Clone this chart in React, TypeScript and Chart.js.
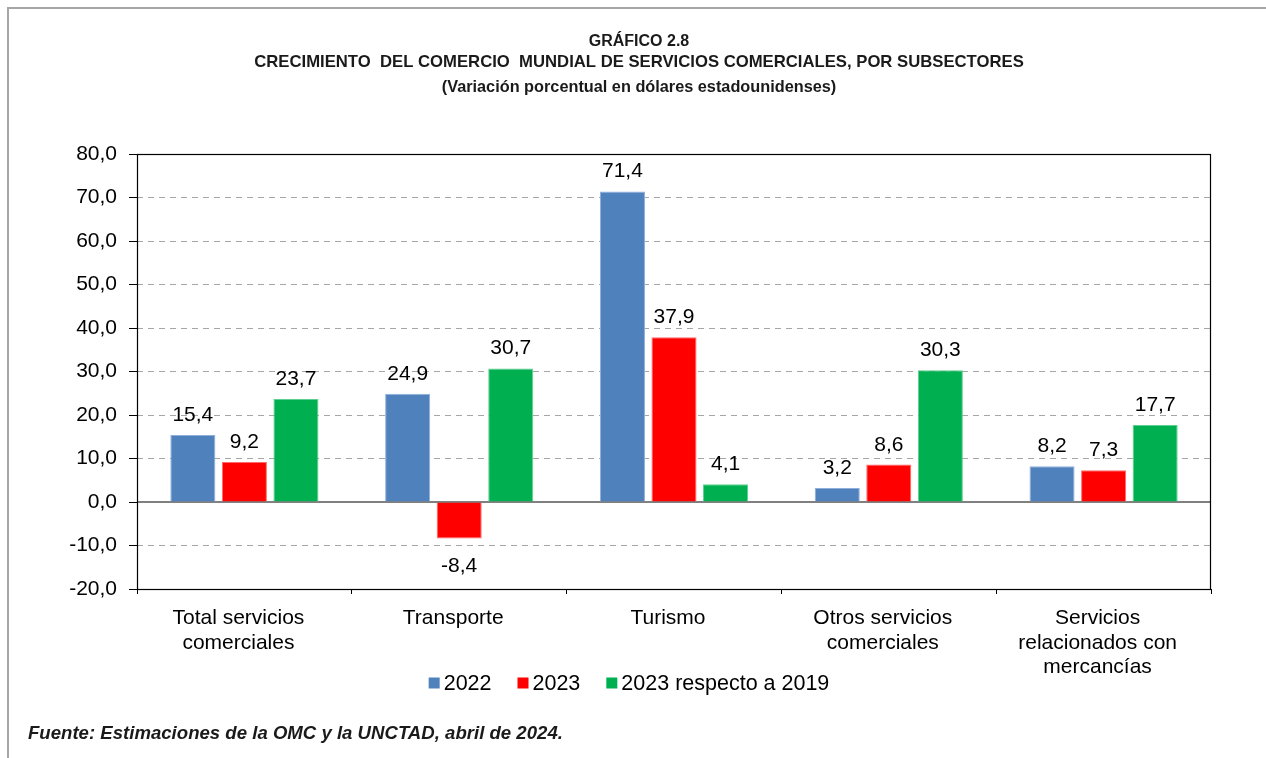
import React, { useEffect, useRef } from "react";
import { Chart, registerables } from "chart.js";

Chart.register(...registerables);

const categories: string[][] = [
  ["Total servicios", "comerciales"],
  ["Transporte"],
  ["Turismo"],
  ["Otros servicios", "comerciales"],
  ["Servicios", "relacionados con", "mercancías"],
];
const values2022 = [15.4, 24.9, 71.4, 3.2, 8.2];
const values2023 = [9.2, -8.4, 37.9, 8.6, 7.3];
const values2023vs2019 = [23.7, 30.7, 4.1, 30.3, 17.7];
const seriesNames = ["2022", "2023", "2023 respecto a 2019"];
const seriesColors = ["#4F81BD", "#FF0000", "#00B050"];
const seriesBorders = ["#8EAEDB", "#FF6A6A", "#5CD08F"];
const yTickMin = -20;
const yTickMax = 80;
const yTickStep = 10;
const titleLines = [
  "GRÁFICO 2.8",
  "CRECIMIENTO  DEL COMERCIO  MUNDIAL DE SERVICIOS COMERCIALES, POR SUBSECTORES",
  "(Variación porcentual en dólares estadounidenses)",
];
const sourceNote = "Fuente: Estimaciones de la OMC y la UNCTAD, abril de 2024.";

const FONT = "'Liberation Sans', Arial, Helvetica, sans-serif";
const fmt = (v: number) => v.toFixed(1).replace(".", ",");

const decorPlugin = {
  id: "decor",
  beforeDraw(chart: any) {
    const ctx = chart.ctx;
    ctx.save();
    // page frame
    ctx.strokeStyle = "#A6A6A6";
    ctx.lineWidth = 2;
    ctx.beginPath();
    ctx.moveTo(8, 758);
    ctx.lineTo(8, 8);
    ctx.lineTo(1266, 8);
    ctx.stroke();
    // titles
    ctx.fillStyle = "#1a1a1a";
    ctx.textAlign = "center";
    ctx.textBaseline = "alphabetic";
    ctx.font = `bold 16px ${FONT}`;
    ctx.fillText(titleLines[0], 639, 46);
    ctx.font = `bold 16.7px ${FONT}`;
    ctx.fillText(titleLines[1], 639, 67);
    ctx.font = `bold 16.3px ${FONT}`;
    ctx.fillText(titleLines[2], 639, 92);
    // source
    ctx.textAlign = "left";
    ctx.font = `italic bold 18.6px ${FONT}`;
    ctx.fillText(sourceNote, 28, 739);
    ctx.restore();
  },
  beforeDatasetsDraw(chart: any) {
    const ctx = chart.ctx;
    const y = chart.scales.y.getPixelForValue(0);
    const a = chart.chartArea;
    ctx.save();
    ctx.strokeStyle = "#808080";
    ctx.lineWidth = 2;
    ctx.beginPath();
    ctx.moveTo(a.left, y);
    ctx.lineTo(a.right, y);
    ctx.stroke();
    ctx.restore();
  },
  afterDatasetsDraw(chart: any) {
    const ctx = chart.ctx;
    const a = chart.chartArea;
    ctx.save();
    // plot frame
    ctx.strokeStyle = "#000";
    ctx.lineWidth = 1.2;
    ctx.strokeRect(a.left + 0.5, a.top + 0.5, a.right - a.left - 1, a.bottom - a.top);
    // data labels
    ctx.fillStyle = "#000";
    ctx.font = `21px ${FONT}`;
    ctx.textAlign = "center";
    ctx.textBaseline = "alphabetic";
    chart.data.datasets.forEach((ds: any, di: number) => {
      const meta = chart.getDatasetMeta(di);
      meta.data.forEach((bar: any, i: number) => {
        const v = ds.data[i];
        const yy = v >= 0 ? bar.y - 14 : bar.y + 33;
        ctx.fillText(fmt(v), bar.x, yy);
      });
    });
    // legend
    ctx.font = `21.5px ${FONT}`;
    ctx.textAlign = "left";
    const box = 11;
    const gap = 4;
    const itemGap = 26;
    const widths = seriesNames.map((n) => box + gap + ctx.measureText(n).width);
    const total = widths.reduce((s, w) => s + w, 0) + itemGap * (widths.length - 1);
    let x = 629 - total / 2;
    const ly = 683;
    seriesNames.forEach((n, i) => {
      ctx.fillStyle = seriesColors[i];
      ctx.fillRect(x, ly - box / 2, box, box);
      ctx.fillStyle = "#000";
      ctx.textBaseline = "middle";
      ctx.fillText(n, x + box + gap, ly + 1);
      x += widths[i] + itemGap;
    });
    ctx.restore();
  },
};

export default function App() {
  const ref = useRef<HTMLCanvasElement | null>(null);
  useEffect(() => {
    if (!ref.current) return;
    const data = [values2022, values2023, values2023vs2019];
    const chart = new Chart(ref.current, {
      type: "bar",
      data: {
        labels: categories,
        datasets: seriesNames.map((name, i) => ({
          label: name,
          data: data[i],
          backgroundColor: seriesColors[i],
          borderColor: seriesBorders[i],
          borderWidth: 1,
          categoryPercentage: 0.72,
          barPercentage: 0.874,
        })),
      },
      options: {
        responsive: false,
        animation: false,
        devicePixelRatio: 1,
        layout: { padding: { top: 154, right: 55, left: 0, bottom: 69 } },
        plugins: {
          legend: { display: false },
          tooltip: { enabled: false },
          title: { display: false },
        },
        scales: {
          x: {
            afterFit: (s: any) => {
              s.height = 100;
            },
            grid: {
              offset: true,
              drawOnChartArea: false,
              drawTicks: true,
              tickLength: 5,
              tickColor: "#000",
              tickWidth: 1,
            },
            border: { display: false },
            ticks: {
              color: "#000",
              padding: 12,
              labelOffset: -6,
              maxRotation: 0,
              autoSkip: false,
              font: { family: FONT, size: 21, lineHeight: 1.17 },
            },
          },
          y: {
            min: yTickMin,
            max: yTickMax,
            afterFit: (s: any) => {
              s.width = 137;
            },
            grid: {
              color: (c: any) =>
                c.tick && (c.tick.value === 0 || c.tick.value === yTickMax || c.tick.value === yTickMin)
                  ? "rgba(0,0,0,0)"
                  : "#A6A6A6",
              lineWidth: 1,
              drawTicks: true,
              tickLength: 8,
              tickColor: "#000",
              tickWidth: 1,
              tickBorderDash: [],
            },
            border: { display: false, dash: [6, 5] },
            ticks: {
              stepSize: yTickStep,
              color: "#000",
              padding: 12,
              font: { family: FONT, size: 21 },
              callback: (v: any) => fmt(Number(v)),
            },
          },
        },
      },
      plugins: [decorPlugin],
    });
    return () => chart.destroy();
  }, []);
  return (
    <div style={{ position: "fixed", left: 0, top: 0, width: 1266, height: 758, background: "#fff" }}>
      <canvas ref={ref} width={1266} height={758} style={{ display: "block" }} />
    </div>
  );
}
